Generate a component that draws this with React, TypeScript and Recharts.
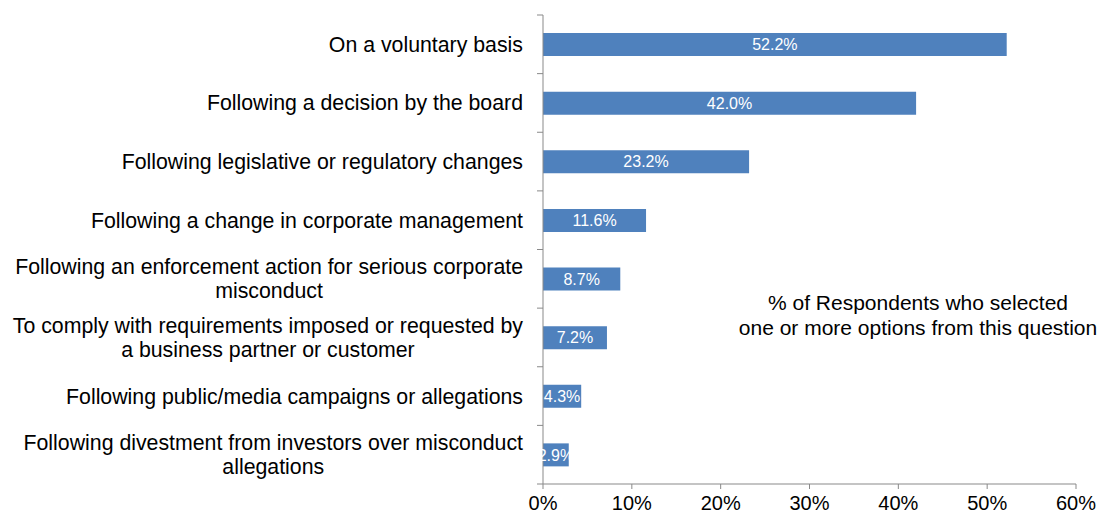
import { BarChart, Bar, XAxis, YAxis, LabelList } from 'recharts';

const categories = [
  'On a voluntary basis',
  'Following a decision by the board',
  'Following legislative or regulatory changes',
  'Following a change in corporate management',
  'Following an enforcement action for serious corporate\nmisconduct',
  'To comply with requirements imposed or requested by\na business partner or customer',
  'Following public/media campaigns or allegations',
  'Following divestment from investors over misconduct\nallegations',
];
const respondents = [52.2, 42.0, 23.2, 11.6, 8.7, 7.2, 4.3, 2.9];
const xTicks = [0, 10, 20, 30, 40, 50, 60];
const note = ['% of Respondents who selected', 'one or more options from this question'];

const data = categories.map((c, i) => ({ reason: c, value: respondents[i] }));

const FONT = '"Liberation Sans", Arial, sans-serif';
const AXIS = '#898989';
const TICK_SIZE = 6;
const TICK_MARGIN = 14;
const LABEL_SIZE = 21.3;

let ctx: CanvasRenderingContext2D | null = null;
function measure(s: string) {
  if (!ctx) ctx = document.createElement('canvas').getContext('2d');
  if (!ctx) return s.length * LABEL_SIZE * 0.5;
  ctx.font = `${LABEL_SIZE}px ${FONT}`;
  return ctx.measureText(s).width;
}

// category label: single lines right-aligned, wrapped lines centred as a block;
// tick marks sit on the band edges like the original
function CategoryTick(props: any) {
  const { x, y, payload, index } = props;
  const half = payload.offset || 29.3;
  const axisX = x + TICK_MARGIN + TICK_SIZE;
  const lines = String(payload.value).split('\n');
  const maxW = Math.max(...lines.map(measure));
  const mid = x - maxW / 2;
  const lh = 24;
  const startY = y - ((lines.length - 1) * lh) / 2;
  return (
    <g>
      <line x1={axisX - TICK_SIZE} x2={axisX} y1={y - half} y2={y - half} stroke={AXIS} />
      {index === categories.length - 1 && (
        <line x1={axisX - TICK_SIZE} x2={axisX} y1={y + half} y2={y + half} stroke={AXIS} />
      )}
      {lines.map((l, i) => (
        <text
          key={i}
          x={lines.length > 1 ? mid : x}
          y={startY + i * lh}
          dy="0.35em"
          textAnchor={lines.length > 1 ? 'middle' : 'end'}
          fontSize={LABEL_SIZE}
          fontFamily={FONT}
          fill="#000"
        >
          {l}
        </text>
      ))}
    </g>
  );
}

export default function App() {
  return (
    <div style={{ position: 'absolute', left: 0, top: 0, width: 1103, height: 517, background: '#fff' }}>
      <BarChart
        width={1103}
        height={517}
        data={data}
        layout="vertical"
        margin={{ top: 15, right: 27, bottom: 0, left: 0 }}
      >
        <XAxis
          type="number"
          domain={[0, 60]}
          ticks={xTicks}
          tickFormatter={(v: number) => `${v}%`}
          height={33}
          stroke={AXIS}
          tickSize={5}
          tickMargin={7}
          tick={{ fill: '#000', fontSize: 20, fontFamily: FONT }}
        />
        <YAxis
          type="category"
          dataKey="reason"
          width={543}
          stroke={AXIS}
          tickLine={{ stroke: 'none' }}
          tickSize={TICK_SIZE}
          tickMargin={TICK_MARGIN}
          interval={0}
          tick={<CategoryTick />}
        />
        <Bar dataKey="value" fill="#4F81BD" barSize={23} isAnimationActive={false}>
          <LabelList
            dataKey="value"
            position="center"
            fill="#fff"
            fontSize={16}
            fontFamily={FONT}
            formatter={(v: any) => `${Number(v).toFixed(1)}%`}
          />
        </Bar>
      </BarChart>
      <div
        style={{
          position: 'absolute',
          left: 718,
          top: 290,
          width: 400,
          textAlign: 'center',
          fontFamily: FONT,
          fontSize: 21,
          lineHeight: '25px',
          color: '#000',
        }}
      >
        {note.map((n) => (
          <div key={n}>{n}</div>
        ))}
      </div>
    </div>
  );
}
